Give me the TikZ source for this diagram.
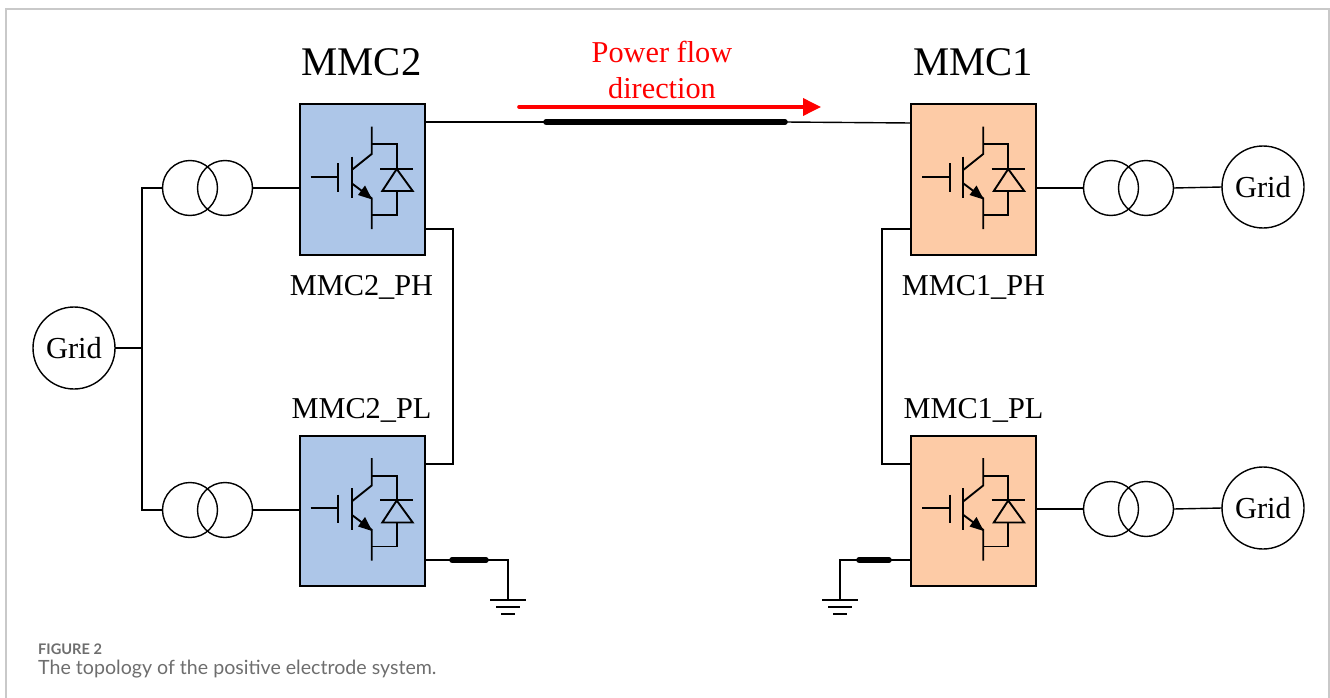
\documentclass[tikz,border=0pt]{standalone}
\usepackage{fontspec}
\setmainfont{Liberation Serif}
\newfontfamily\capfont{Lato}
\usetikzlibrary{arrows.meta,calc}
\definecolor{bluefill}{HTML}{ADC6E8}
\definecolor{orangefill}{HTML}{FDCBA6}
\definecolor{capgray}{HTML}{6E6E6E}
\definecolor{framegray}{HTML}{C9C9C9}
\tikzset{
  wire/.style={draw=black,line width=1.4pt},
  cable/.style={draw=black,line width=5.5pt,line cap=round},
  modbox/.style={draw=black,line width=2pt,minimum width=125pt,minimum height=150pt,inner sep=0pt,outer sep=0pt},
  gridnode/.style={circle,draw=black,line width=1.4pt,minimum size=82pt,inner sep=0pt,outer sep=0pt,font=\fontsize{30.5}{30.5}\selectfont},
  coil/.style={circle,draw=black,line width=1.4pt,minimum size=55pt,inner sep=0pt,outer sep=0pt},
  lab/.style={inner sep=0pt,font=\fontsize{30.3}{30.3}\selectfont},
  title/.style={inner sep=0pt,font=\fontsize{40.7}{40.7}\selectfont},
  sym/.style={draw=black,line width=1.9pt},
  gndbar/.style={draw=black,line width=2.5pt}
}
\newcommand{\igbtsym}[2]{%
  \begin{scope}[shift={(#1,#2)}]
    \draw[sym] (11.7,72.7) -- (38.3,72.7);
    \draw[sym] (39.3,59) -- (39.3,87.7);
    \draw[sym] (52.7,52.7) -- (52.7,94.3);
    \draw[sym] (52.7,66) -- (72.7,50) -- (72.7,22.7);
    \draw[sym] (72.7,40.3) -- (97.7,40.3) -- (97.7,65);
    \draw[sym] (81,64.8) -- (114.3,64.8);
    \draw[sym] (97.7,65) -- (83.3,87) -- (113.7,87) -- cycle;
    \draw[sym] (97.7,87) -- (97.7,111) -- (72.7,111);
    \draw[sym] (52.7,79.3) -- (72.7,94.3) -- (72.7,125);
    \fill[black] (73.2,95.5) -- (59,91) -- (66,81.5) -- cycle;
  \end{scope}}
\newcommand{\gndsym}[1]{%
  \draw[gndbar] ($(#1)+(-18,0)$) -- ($(#1)+(18,0)$);
  \draw[gndbar] ($(#1)+(-12,7)$) -- ($(#1)+(12,7)$);
  \draw[gndbar] ($(#1)+(-7,14)$) -- ($(#1)+(7,14)$);}
\begin{document}
\begin{tikzpicture}[x=1pt,y=-1pt]
\useasboundingbox (0,0) rectangle (1330,698);
\draw[framegray,line width=1.2pt] (6,698) -- (6,9) -- (1329,9) -- (1329,698);

% converter boxes
\node[modbox,fill=bluefill] (m2h) at (362,179.5) {};
\node[modbox,fill=bluefill] (m2l) at (362,511) {};
\node[modbox,fill=orangefill] (m1h) at (973.5,179.5) {};
\node[modbox,fill=orangefill] (m1l) at (973.5,511) {};
\igbtsym{299}{104}
\igbtsym{299}{435.5}
\igbtsym{910.5}{104}
\igbtsym{910.5}{435.5}

% grids
\node[gridnode] (g2) at (74,348) {Grid};
\node[gridnode] (g1h) at (1263,187) {Grid};
\node[gridnode] (g1l) at (1263,508) {Grid};

% transformers
\node[coil] (t2ha) at (190,188) {};
\node[coil] (t2hb) at (225,188) {};
\node[coil] (t2la) at (190,510) {};
\node[coil] (t2lb) at (225,510) {};
\node[coil] (t1ha) at (1111,188) {};
\node[coil] (t1hb) at (1146,188) {};
\node[coil] (t1la) at (1111,509) {};
\node[coil] (t1lb) at (1146,509) {};

% labels
\node[title] (tm2) at (361.5,62) {MMC2};
\node[title] (tm1) at (973,62) {MMC1};
\node[lab] (l2h) at (361.5,287.5) {MMC2\_PH};
\node[lab] (l2l) at (361.5,410) {MMC2\_PL};
\node[lab] (l1h) at (973.5,287.5) {MMC1\_PH};
\node[lab] (l1l) at (973.5,410) {MMC1\_PL};
\node[lab,text=red] (pf1) at (662,52) {Power flow};
\node[lab,text=red] (pf2) at (662,88) {direction};

% named connection points
\coordinate (jt) at (142,188);
\coordinate (jm) at (142,348);
\coordinate (jb) at (142,510);
\coordinate (c1) at (546,122);
\coordinate (c2) at (785,122);
\coordinate (a2) at (425,122);
\coordinate (a1) at (911,123);
\coordinate (p2a) at (425,229);
\coordinate (p2b) at (453,229);
\coordinate (p2c) at (453,464);
\coordinate (p2d) at (425,464);
\coordinate (p1a) at (911,229);
\coordinate (p1b) at (882,229);
\coordinate (p1c) at (882,464);
\coordinate (p1d) at (911,464);
\coordinate (e2a) at (425,560);
\coordinate (e2b) at (452,560);
\coordinate (e2c) at (486,560);
\coordinate (e2d) at (508,560);
\coordinate (e2g) at (508,600);
\coordinate (e1a) at (911,560);
\coordinate (e1b) at (889,560);
\coordinate (e1c) at (859,560);
\coordinate (e1d) at (840,560);
\coordinate (e1g) at (840,600);
\coordinate (rs) at (519,107);
\coordinate (re) at (821,107);

% left side wiring
\draw[wire] (g2.east) -- (jm);
\draw[wire] (t2ha.west) -- (jt) -- (jb) -- (t2la.west);
\draw[wire] (t2hb.east) -- (t2hb.east -| m2h.west);
\draw[wire] (t2lb.east) -- (t2lb.east -| m2l.west);

% right side wiring
\draw[wire] (t1ha.west) -- (t1ha.west -| m1h.east);
\draw[wire] (t1la.west) -- (t1la.west -| m1l.east);
\draw[wire] (t1hb.east) -- (g1h.west);
\draw[wire] (t1lb.east) -- (g1l.west);

% DC line
\draw[wire] (a2) -- (c1);
\draw[wire] (c2) -- (a1);
\draw[cable] (c1) -- (c2);

% mid-point links
\draw[wire] (p2a) -- (p2b) -- (p2c) -- (p2d);
\draw[wire] (p1a) -- (p1b) -- (p1c) -- (p1d);

% earth returns
\draw[wire] (e2a) -- (e2b);
\draw[cable] (e2b) -- (e2c);
\draw[wire] (e2c) -- (e2d) -- (e2g);
\gndsym{e2g}
\draw[wire] (e1a) -- (e1b);
\draw[cable] (e1b) -- (e1c);
\draw[wire] (e1c) -- (e1d) -- (e1g);
\gndsym{e1g}

% power flow arrow
\draw[red,line width=3.6pt,line cap=round,-{Triangle[length=18pt,width=17pt]}] (rs) -- (re);

% caption
\node[anchor=base west,inner sep=0pt,text=capgray,font=\capfont\bfseries\fontsize{14.6}{14.6}\selectfont] (capa) at (38,654) {FIGURE 2};
\node[anchor=base west,inner sep=0pt,text=capgray,font=\capfont\fontsize{19.6}{19.6}\selectfont] (capb) at (38,674) {The topology of the positive electrode system.};
\end{tikzpicture}
\end{document}
